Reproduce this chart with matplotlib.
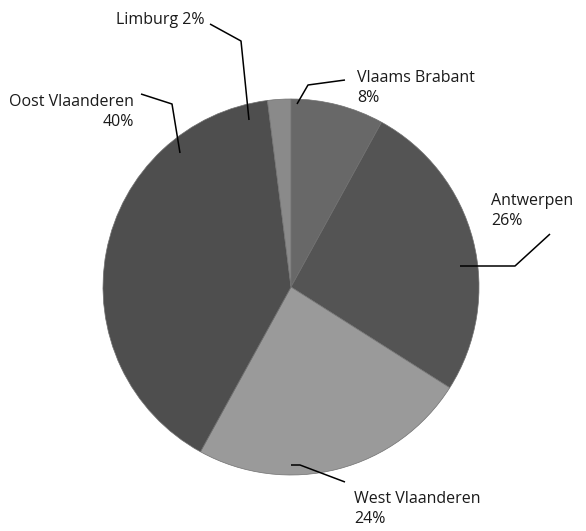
import matplotlib.pyplot as plt

plt.rcParams['font.family'] = ['Open Sans', 'DejaVu Sans']

# share per province, clockwise from the top
provinces = ['Vlaams Brabant', 'Antwerpen', 'West Vlaanderen', 'Oost Vlaanderen', 'Limburg']
shares = [8, 26, 24, 40, 2]
colors = ['#686868', '#545454', '#9a9a9a', '#4e4e4e', '#8a8a8a']

W, H = 586, 531
fig = plt.figure(figsize=(W / 100, H / 100), dpi=100)
ax = fig.add_axes([0, 0, 1, 1])

ax.pie(shares, colors=colors, startangle=90, counterclock=False,
       center=(291, H - 287), radius=188, frame=True,
       wedgeprops=dict(linewidth=0.5, edgecolor='#707070'))
ax.set_xlim(0, W)
ax.set_ylim(0, H)
ax.set_aspect('equal')
ax.axis('off')

def px(points):
    return [p[0] for p in points], [H - p[1] for p in points]

# leader lines (pixel coordinates, y down)
leaders = [
    [(297, 104), (308, 85), (345, 80)],      # Vlaams Brabant
    [(460, 266), (515, 266), (550, 234)],    # Antwerpen
    [(291, 465), (300, 465), (345, 482)],    # West Vlaanderen
    [(180, 153), (172, 104), (141, 94)],     # Oost Vlaanderen
    [(249, 120), (241, 41), (210, 24)],      # Limburg
]
for pts in leaders:
    xs, ys = px(pts)
    ax.plot(xs, ys, color='black', lw=1.1, solid_capstyle='butt')

fs = 11.5
ls = 1.35
tc = '#1a1a1a'
lbl = [f'{p}\n{s}%' for p, s in zip(provinces, shares)]
ax.text(357, H - 70, lbl[0], fontsize=fs, color=tc, ha='left', va='top', linespacing=ls)
ax.text(491, H - 193, lbl[1], fontsize=fs, color=tc, ha='left', va='top', linespacing=ls)
ax.text(354, H - 491, lbl[2], fontsize=fs, color=tc, ha='left', va='top', linespacing=ls)
ax.text(134, H - 94, lbl[3], fontsize=fs, color=tc, ha='right', va='top',
        linespacing=ls, multialignment='right')
ax.text(204, H - 12, f'{provinces[4]} {shares[4]}%', fontsize=fs, color=tc, ha='right', va='top')

fig.savefig('out.png', dpi=100)
